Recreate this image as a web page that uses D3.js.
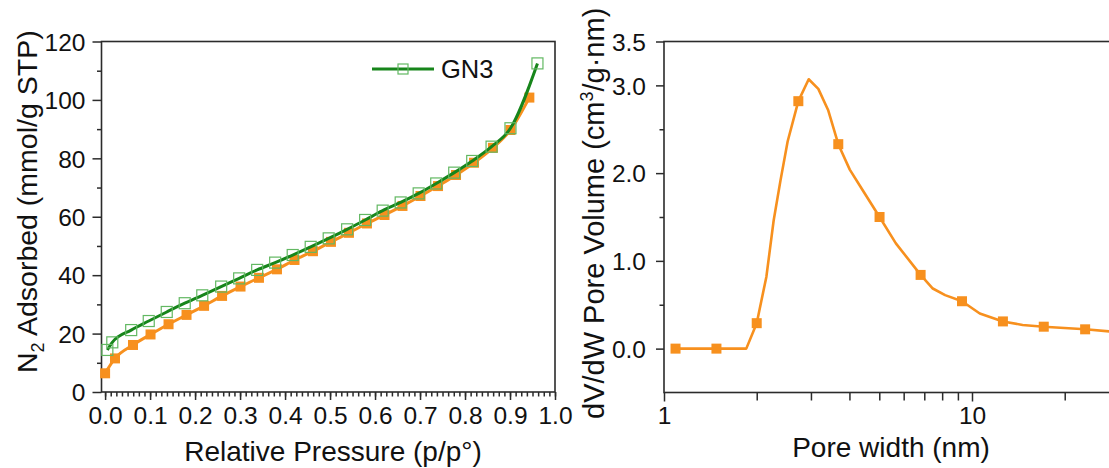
<!DOCTYPE html>
<html>
<head>
<meta charset="utf-8">
<script src="https://cdn.jsdelivr.net/npm/d3@7"></script>
<style>
  html, body { margin: 0; padding: 0; background: #fff; }
  svg { display: block; font-family: "Liberation Sans", Arial, Helvetica, sans-serif; }
</style>
</head>
<body>
<svg id="chart" width="1109" height="468"></svg>
<script>
// ---- N2 isotherm (left panel) ----
const isoPressureOrange = [0.0, 0.022, 0.062, 0.101, 0.141, 0.181, 0.22, 0.26, 0.301, 0.342, 0.382, 0.421, 0.462,
  0.502, 0.542, 0.582, 0.621, 0.661, 0.701, 0.74, 0.78, 0.82, 0.862, 0.901, 0.943];
const isoAdsorbedOrange = [6.4, 11.5, 16.1, 19.7, 23.2, 26.4, 29.5, 32.9, 36.1, 39.1, 42.0, 45.2, 48.2,
  51.4, 54.5, 57.7, 60.6, 63.7, 67.1, 70.5, 74.3, 78.5, 83.6, 89.7, 100.8];

const isoPressureGN3 = [0.005, 0.016, 0.058, 0.097, 0.137, 0.177, 0.216, 0.258, 0.298, 0.338, 0.378, 0.417, 0.457,
  0.497, 0.538, 0.578, 0.617, 0.657, 0.697, 0.736, 0.776, 0.816, 0.859, 0.901, 0.961];
const isoAdsorbedGN3 = [14.4, 17.0, 21.2, 24.3, 27.4, 30.4, 33.1, 36.1, 38.9, 41.8, 44.3, 46.9, 49.7,
  52.6, 55.7, 58.9, 62.1, 64.9, 68.0, 71.4, 75.1, 79.1, 84.0, 90.3, 112.5];

const isoXTicks = [0.0, 0.1, 0.2, 0.3, 0.4, 0.5, 0.6, 0.7, 0.8, 0.9, 1.0];
const isoYTicks = [0, 20, 40, 60, 80, 100, 120];
const legendLabel = "GN3";

// ---- Pore size distribution (right panel) ----
const poreWidth = [1.09, 1.48, 1.85, 2.0, 2.15, 2.27, 2.39, 2.52, 2.73, 2.95, 3.17, 3.41, 3.68, 4.01, 4.48,
  5.01, 5.66, 6.81, 7.46, 8.18, 9.28, 10.6, 12.6, 14.6, 17.1, 23.3, 31.7, 40];
const poreVolume = [0, 0, 0, 0.29, 0.82, 1.46, 1.92, 2.36, 2.82, 3.07, 2.96, 2.72, 2.33, 2.04, 1.77,
  1.50, 1.20, 0.84, 0.685, 0.61, 0.54, 0.40, 0.31, 0.27, 0.25, 0.22, 0.18, 0.16];
const poreMarked = [1, 1, 0, 1, 0, 0, 0, 0, 1, 0, 0, 0, 1, 0, 0,
  1, 0, 1, 0, 0, 1, 0, 1, 0, 1, 1, 1, 0];

const psdYTicks = [0.0, 1.0, 2.0, 3.0, 3.5];
const psdYMinor = [0.5, 1.5, 2.5];
const psdXTicks = [1, 10];
const psdXMinor = [2, 3, 4, 5, 6, 7, 8, 9, 20, 30];

const ORANGE = "#f7901e";
const GREEN_LINE = "#17851b";
const GREEN_MARK = "#62b862";
const AXIS = "#2b2b2b";
const TICK_FONT = 24.5;

const svg = d3.select("#chart");
svg.append("rect").attr("width", 1109).attr("height", 468).attr("fill", "#fff");

function styleAxis(g, fontSize) {
  g.select(".domain").remove();
  g.selectAll(".tick line").attr("stroke", AXIS).attr("stroke-width", 1.5);
  g.selectAll(".tick text").attr("fill", "#111").attr("font-size", fontSize)
    .attr("font-family", "\"Liberation Sans\", Arial, sans-serif");
}

// ================= Left panel =================
const xL = d3.scaleLinear().domain([-0.008, 1.0]).range([101.5, 555]);
const yL = d3.scaleLinear().domain([0, 120]).range([392, 41.5]);

const left = svg.append("g");

// minor ticks
left.append("g").attr("transform", `translate(0,${yL(0)})`)
  .call(d3.axisBottom(xL).tickValues(d3.range(0, 1.0001, 0.0125)).tickSize(4.5).tickFormat(""))
  .call(g => styleAxis(g, TICK_FONT));
left.append("g").attr("transform", `translate(${xL.range()[0]},0)`)
  .call(d3.axisLeft(yL).tickValues(d3.range(10, 120, 20)).tickSize(4.5).tickFormat(""))
  .call(g => styleAxis(g, TICK_FONT));

// major ticks
left.append("g").attr("transform", `translate(0,${yL(0)})`)
  .call(d3.axisBottom(xL).tickValues(isoXTicks).tickSize(8).tickPadding(7).tickFormat(d3.format(".1f")))
  .call(g => styleAxis(g, TICK_FONT));
left.append("g").attr("transform", `translate(${xL.range()[0]},0)`)
  .call(d3.axisLeft(yL).tickValues(isoYTicks).tickSize(9).tickPadding(7).tickFormat(d3.format("d")))
  .call(g => styleAxis(g, TICK_FONT))
  .call(g => g.selectAll(".tick text").attr("dy", "0.36em"));

// frame
left.append("rect")
  .attr("x", xL.range()[0]).attr("y", yL(120))
  .attr("width", xL.range()[1] - xL.range()[0]).attr("height", yL(0) - yL(120))
  .attr("fill", "none").attr("stroke", AXIS).attr("stroke-width", 1.6);

const isoOrange = isoPressureOrange.map((p, i) => ({ x: p, y: isoAdsorbedOrange[i] }));
const isoGN3 = isoPressureGN3.map((p, i) => ({ x: p, y: isoAdsorbedGN3[i] }));

const lineL = d3.line().x(d => xL(d.x)).y(d => yL(d.y)).curve(d3.curveMonotoneX);

left.append("path").datum(isoOrange).attr("d", lineL)
  .attr("fill", "none").attr("stroke", ORANGE).attr("stroke-width", 3);
left.selectAll("rect.om").data(isoOrange).join("rect").attr("class", "om")
  .attr("x", d => xL(d.x) - 5).attr("y", d => yL(d.y) - 5)
  .attr("width", 10).attr("height", 10).attr("fill", ORANGE);

left.append("path").datum(isoGN3).attr("d", lineL)
  .attr("fill", "none").attr("stroke", GREEN_LINE).attr("stroke-width", 3);
left.selectAll("rect.gm").data(isoGN3).join("rect").attr("class", "gm")
  .attr("x", d => xL(d.x) - 5.5).attr("y", d => yL(d.y) - 5.5)
  .attr("width", 11).attr("height", 11).attr("fill", "none")
  .attr("stroke", GREEN_MARK).attr("stroke-width", 1.2);

// legend
const lg = left.append("g").attr("transform", "translate(372,69)");
lg.append("line").attr("x1", 0).attr("x2", 62).attr("y1", 0).attr("y2", 0)
  .attr("stroke", GREEN_LINE).attr("stroke-width", 3);
lg.append("rect").attr("x", 31 - 5).attr("y", -5).attr("width", 10).attr("height", 10)
  .attr("fill", "none").attr("stroke", GREEN_MARK).attr("stroke-width", 1.2);
lg.append("text").attr("x", 69).attr("y", 8.5).attr("font-size", 25.5).attr("fill", "#111").text(legendLabel);

// axis titles
left.append("text").attr("x", 333).attr("y", 461).attr("text-anchor", "middle")
  .attr("font-size", 28).attr("fill", "#111").text("Relative Pressure (p/p°)");

const yTitleL = left.append("text")
  .attr("transform", "translate(37,373) rotate(-90)")
  .attr("font-size", 28.5).attr("fill", "#111");
yTitleL.append("tspan").text("N");
yTitleL.append("tspan").attr("font-size", 18).attr("dy", 7).text("2");
yTitleL.append("tspan").attr("dy", -7).text(" Adsorbed (mmol/g STP)");

// ================= Right panel =================
const xR = d3.scaleLog().domain([1, 40]).range([664, 664 + Math.log10(40) * 308]);
const yR = d3.scaleLinear().domain([-0.5, 3.5]).range([392.5, 41.5]);

const right = svg.append("g");

right.append("g").attr("transform", `translate(0,${yR(-0.5)})`)
  .call(d3.axisBottom(xR).tickValues(psdXMinor).tickSize(8).tickFormat(""))
  .call(g => styleAxis(g, TICK_FONT));
right.append("g").attr("transform", `translate(0,${yR(-0.5)})`)
  .call(d3.axisBottom(xR).tickValues(psdXTicks).tickSize(9).tickPadding(5).tickFormat(d3.format("d")))
  .call(g => styleAxis(g, TICK_FONT));

right.append("g").attr("transform", `translate(${xR(1)},0)`)
  .call(d3.axisLeft(yR).tickValues(psdYMinor).tickSize(4.5).tickFormat(""))
  .call(g => styleAxis(g, TICK_FONT));
right.append("g").attr("transform", `translate(${xR(1)},0)`)
  .call(d3.axisLeft(yR).tickValues(psdYTicks).tickSize(8).tickPadding(10).tickFormat(d3.format(".1f")))
  .call(g => styleAxis(g, TICK_FONT))
  .call(g => g.selectAll(".tick text").attr("dy", "0.36em"));

right.append("rect")
  .attr("x", xR(1)).attr("y", yR(3.5))
  .attr("width", xR(40) - xR(1)).attr("height", yR(-0.5) - yR(3.5))
  .attr("fill", "none").attr("stroke", AXIS).attr("stroke-width", 1.6);

const psd = poreWidth.map((w, i) => ({ x: w, y: poreVolume[i], m: poreMarked[i] }));
const lineR = d3.line().x(d => xR(d.x)).y(d => yR(d.y)).curve(d3.curveLinear);

right.append("path").datum(psd).attr("d", lineR)
  .attr("fill", "none").attr("stroke", ORANGE).attr("stroke-width", 2.6)
  .attr("stroke-linejoin", "round");
right.selectAll("rect.pm").data(psd.filter(d => d.m)).join("rect").attr("class", "pm")
  .attr("x", d => xR(d.x) - 5).attr("y", d => yR(d.y) - 5)
  .attr("width", 10).attr("height", 10).attr("fill", ORANGE);

right.append("text").attr("x", 891).attr("y", 457).attr("text-anchor", "middle")
  .attr("font-size", 28).attr("fill", "#111").text("Pore width (nm)");

const yTitleR = right.append("text")
  .attr("transform", "translate(604,419) rotate(-90)")
  .attr("font-size", 29).attr("fill", "#111");
yTitleR.append("tspan").text("dV/dW Pore Volume (cm");
yTitleR.append("tspan").attr("font-size", 18).attr("dy", -11).text("3");
yTitleR.append("tspan").attr("dy", 11).text("/g·nm)");
</script>
</body>
</html>
